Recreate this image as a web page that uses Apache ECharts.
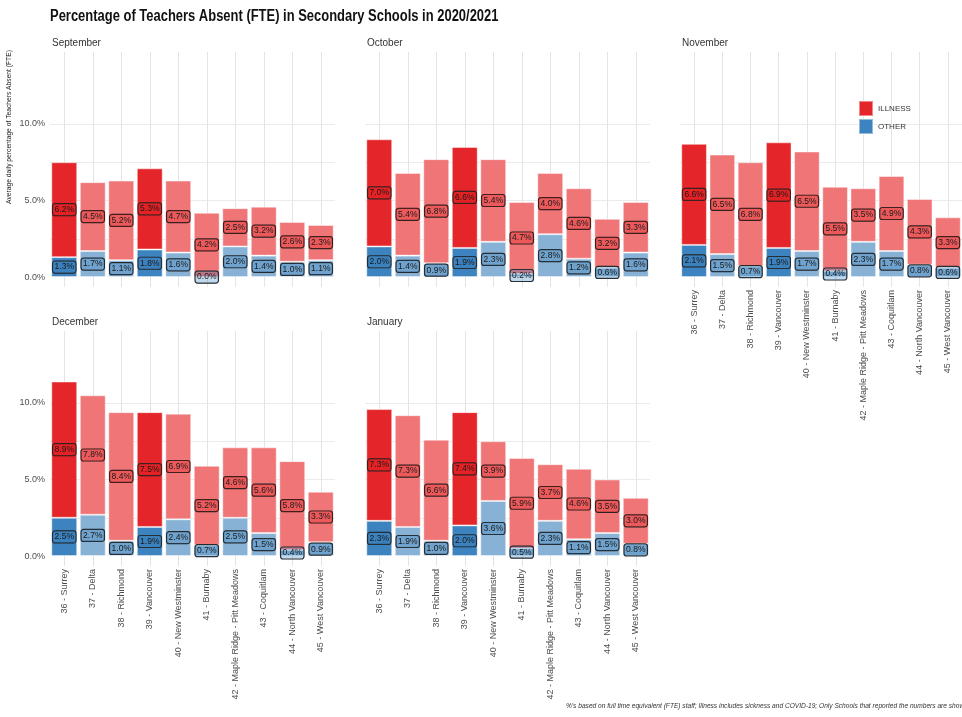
<!DOCTYPE html>
<html>
<head>
<meta charset="utf-8">
<script src="https://cdn.jsdelivr.net/npm/echarts@6/dist/echarts.min.js"></script>
<style>
  html, body { margin: 0; padding: 0; background: #fff; }
  #chart { width: 962px; height: 717px; }
</style>
</head>
<body>
<div id="chart"></div>
<script>
// districts on the x axis
const districts = [
  '36 - Surrey', '37 - Delta', '38 - Richmond', '39 - Vancouver',
  '40 - New Westminster', '41 - Burnaby', '42 - Maple Ridge - Pitt Meadows',
  '43 - Coquitlam', '44 - North Vancouver', '45 - West Vancouver'
];
const highlighted = ['36 - Surrey', '39 - Vancouver'];
const months = ['September', 'October', 'November', 'December', 'January'];

// % absent, illness / other
const illnessSep = [6.2, 4.5, 5.2, 5.3, 4.7, 4.2, 2.5, 3.2, 2.6, 2.3];
const otherSep   = [1.3, 1.7, 1.1, 1.8, 1.6, 0.0, 2.0, 1.4, 1.0, 1.1];
const illnessOct = [7.0, 5.4, 6.8, 6.6, 5.4, 4.7, 4.0, 4.6, 3.2, 3.3];
const otherOct   = [2.0, 1.4, 0.9, 1.9, 2.3, 0.2, 2.8, 1.2, 0.6, 1.6];
const illnessNov = [6.6, 6.5, 6.8, 6.9, 6.5, 5.5, 3.5, 4.9, 4.3, 3.3];
const otherNov   = [2.1, 1.5, 0.7, 1.9, 1.7, 0.4, 2.3, 1.7, 0.8, 0.6];
const illnessDec = [8.9, 7.8, 8.4, 7.5, 6.9, 5.2, 4.6, 5.6, 5.8, 3.3];
const otherDec   = [2.5, 2.7, 1.0, 1.9, 2.4, 0.7, 2.5, 1.5, 0.4, 0.9];
const illnessJan = [7.3, 7.3, 6.6, 7.4, 3.9, 5.9, 3.7, 4.6, 3.5, 3.0];
const otherJan   = [2.3, 1.9, 1.0, 2.0, 3.6, 0.5, 2.3, 1.1, 1.5, 0.8];

const yTicks = [0, 2.5, 5, 7.5, 10, 12.5];
const yLabels = [0, 5, 10];

const panels = [
  { title: months[0], illness: illnessSep, other: otherSep, left: 50,  top: 52,  yLab: true,  xLab: false },
  { title: months[1], illness: illnessOct, other: otherOct, left: 365, top: 52,  yLab: false, xLab: false },
  { title: months[2], illness: illnessNov, other: otherNov, left: 680, top: 52,  yLab: false, xLab: true },
  { title: months[3], illness: illnessDec, other: otherDec, left: 50,  top: 331, yLab: true,  xLab: true },
  { title: months[4], illness: illnessJan, other: otherJan, left: 365, top: 331, yLab: false, xLab: true }
];

const RED = '#e4262a', RED_L = '#ef7577';
const BLUE = '#3d83bf', BLUE_L = '#87b2d5';
const FONT = '"Liberation Sans", Arial, sans-serif';

const chart = echarts.init(document.getElementById('chart'), null, { renderer: 'canvas' });

const grid = [], xAxis = [], yAxis = [], series = [], graphic = [];

function labelCfg(bg) {
  return {
    show: true,
    position: 'inside',
    formatter: (p) => p.value.toFixed(1) + '%',
    fontFamily: FONT,
    fontSize: 8.5,
    color: '#1a1a1a',
    backgroundColor: bg,
    borderColor: '#222',
    borderWidth: 0.6,
    borderRadius: 2.5,
    padding: [2, 2, 1, 2]
  };
}

panels.forEach((p, i) => {
  grid.push({ left: p.left, top: p.top, width: 285, height: 235 });
  xAxis.push({
    type: 'category',
    gridIndex: i,
    data: districts,
    axisLine: { show: false },
    axisTick: { show: false },
    splitLine: { show: true, alignWithLabel: true, lineStyle: { color: '#e4e4e4', width: 1 } },
    axisLabel: {
      show: p.xLab,
      rotate: 90,
      interval: 0,
      margin: 3,
      fontFamily: FONT,
      fontSize: 9,
      color: '#4d4d4d'
    }
  });
  yAxis.push({
    type: 'value',
    gridIndex: i,
    min: -0.65,
    max: 14.7,
    axisLine: { show: false },
    axisTick: { show: false, customValues: yTicks },
    splitLine: { show: true, showMinLine: false, showMaxLine: false, lineStyle: { color: '#ebebeb', width: 1 } },
    axisLabel: {
      show: p.yLab,
      customValues: yLabels,
      formatter: (v) => v.toFixed(1) + '%',
      margin: 5,
      fontFamily: FONT,
      fontSize: 9,
      color: '#4d4d4d'
    }
  });
  const dark = (k) => highlighted.indexOf(districts[k]) >= 0;
  series.push({
    name: 'OTHER',
    type: 'bar',
    stack: 'p' + i,
    xAxisIndex: i,
    yAxisIndex: i,
    barCategoryGap: '9%',
    itemStyle: { color: BLUE, borderColor: 'rgba(255,255,255,0.45)', borderWidth: 1 },
    label: labelCfg('rgba(55,126,184,0.3)'),
    data: p.other.map((v, k) => ({ value: v, itemStyle: { color: dark(k) ? BLUE : BLUE_L } }))
  });
  series.push({
    name: 'ILLNESS',
    type: 'bar',
    stack: 'p' + i,
    xAxisIndex: i,
    yAxisIndex: i,
    barCategoryGap: '9%',
    itemStyle: { color: RED, borderColor: 'rgba(255,255,255,0.45)', borderWidth: 1 },
    label: labelCfg('rgba(228,26,28,0.3)'),
    data: p.illness.map((v, k) => ({ value: v, itemStyle: { color: dark(k) ? RED : RED_L } }))
  });
  graphic.push({
    type: 'text',
    left: p.left + 2,
    top: p.top - 14,
    style: { text: p.title, fontFamily: FONT, fontSize: 10, fill: '#333' }
  });
});

// main title (narrowed bold face)
graphic.push({
  type: 'text',
  x: 50,
  y: 17,
  scaleX: 0.81,
  style: {
    text: 'Percentage of Teachers Absent (FTE) in Secondary Schools in 2020/2021',
    fontFamily: FONT, fontSize: 16, fontWeight: 'bold', fill: '#111',
    align: 'left', verticalAlign: 'middle'
  }
});

// y axis title
graphic.push({
  type: 'text',
  x: 9,
  y: 127,
  rotation: Math.PI / 2,
  style: {
    text: 'Average daily percentage of Teachers Absent (FTE)',
    fontFamily: FONT, fontSize: 6.7, fill: '#222',
    align: 'center', verticalAlign: 'middle'
  }
});

// footnote
graphic.push({
  type: 'text',
  left: 566,
  top: 703,
  style: {
    text: "%'s based on full time equivalent (FTE) staff; Illness includes sickness and COVID-19; Only Schools that reported the numbers are shown",
    fontFamily: FONT, fontSize: 6.6, fontStyle: 'italic', fill: '#333'
  }
});

chart.setOption({
  backgroundColor: '#fff',
  animation: false,
  legend: {
    data: ['ILLNESS', 'OTHER'],
    left: 853,
    top: 95,
    orient: 'vertical',
    icon: 'rect',
    itemWidth: 14,
    itemHeight: 15,
    itemGap: 1,
    selectedMode: false,
    textStyle: { fontFamily: FONT, fontSize: 8, color: '#333' }
  },
  grid: grid,
  xAxis: xAxis,
  yAxis: yAxis,
  series: series,
  graphic: graphic
});
</script>
</body>
</html>
